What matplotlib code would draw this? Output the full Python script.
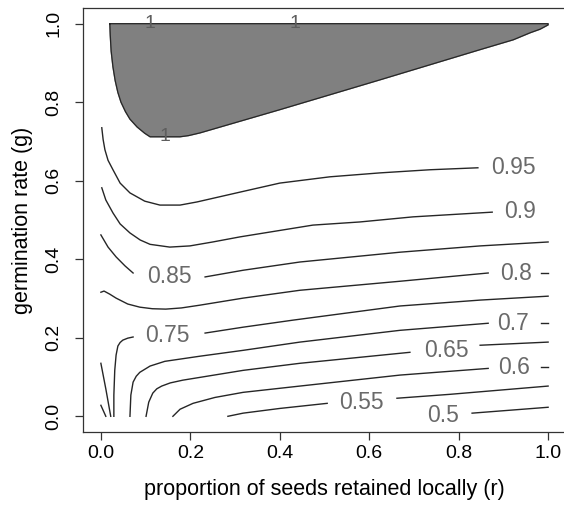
import matplotlib
matplotlib.use("Agg")
import matplotlib.pyplot as plt
import numpy as np

plt.rcParams['font.family'] = ['Liberation Sans', 'DejaVu Sans']

# contour lines: r = proportion retained, g = germination rate
# level 1 (shaded region outline)
c100_r = [0.020, 0.021, 0.023, 0.027, 0.032, 0.038, 0.045, 0.055, 0.065, 0.081,
          0.098, 0.110, 0.177, 0.196, 0.222, 0.400, 0.624, 0.848, 0.922, 0.960,
          0.982, 1.0, 1.0, 0.020]
c100_g = [1.0, 0.970, 0.930, 0.890, 0.855, 0.825, 0.800, 0.776, 0.757, 0.737,
          0.721, 0.712, 0.712, 0.715, 0.722, 0.781, 0.857, 0.934, 0.959, 0.977,
          0.986, 0.997, 1.0, 1.0]

c095_r = [0.002, 0.005, 0.009, 0.016, 0.027, 0.043, 0.065, 0.098, 0.132, 0.177,
          0.215, 0.311, 0.400, 0.512, 0.624, 0.736, 0.843]
c095_g = [0.735, 0.705, 0.679, 0.652, 0.628, 0.594, 0.569, 0.548, 0.538, 0.538,
          0.546, 0.571, 0.594, 0.610, 0.620, 0.628, 0.633]

c090_r = [0.002, 0.011, 0.027, 0.043, 0.065, 0.088, 0.110, 0.154, 0.199, 0.250,
          0.311, 0.474, 0.579, 0.698, 0.875]
c090_g = [0.582, 0.551, 0.518, 0.490, 0.467, 0.449, 0.438, 0.431, 0.434, 0.444,
          0.457, 0.487, 0.495, 0.508, 0.520]

c085a_r = [0.0, 0.016, 0.034, 0.054, 0.072]
c085a_g = [0.462, 0.431, 0.406, 0.383, 0.365]
c085b_r = [0.233, 0.318, 0.445, 0.669, 0.848, 1.0]
c085b_g = [0.355, 0.372, 0.393, 0.418, 0.434, 0.444]

c080_r = [0.0, 0.007, 0.020, 0.034, 0.060, 0.087, 0.115, 0.145, 0.180, 0.221,
          0.318, 0.445, 0.669, 0.866]
c080_g = [0.316, 0.319, 0.311, 0.301, 0.286, 0.278, 0.274, 0.273, 0.276, 0.283,
          0.301, 0.321, 0.344, 0.365]
c080b_r = [0.985, 1.0]
c080b_g = [0.365, 0.365]

c075a_r = [0.029, 0.029, 0.031, 0.034, 0.038, 0.043, 0.049, 0.060, 0.072]
c075a_g = [0.0, 0.054, 0.117, 0.156, 0.179, 0.188, 0.194, 0.199, 0.202]
c075b_r = [0.233, 0.318, 0.430, 0.669, 0.848, 1.0]
c075b_g = [0.212, 0.227, 0.245, 0.281, 0.296, 0.306]

c070_r = [0.065, 0.067, 0.072, 0.079, 0.087, 0.110, 0.143, 0.221, 0.318, 0.445,
          0.669, 0.866]
c070_g = [0.0, 0.054, 0.087, 0.102, 0.112, 0.128, 0.140, 0.153, 0.168, 0.189,
          0.219, 0.237]
c070b_r = [0.985, 1.0]
c070b_g = [0.237, 0.237]

c065a_r = [0.101, 0.107, 0.116, 0.125, 0.136, 0.155, 0.183, 0.318, 0.445, 0.691]
c065a_g = [0.0, 0.036, 0.059, 0.070, 0.077, 0.085, 0.092, 0.117, 0.135, 0.163]
c065b_r = [0.848, 1.0]
c065b_g = [0.181, 0.189]

c060_r = [0.161, 0.177, 0.206, 0.255, 0.318, 0.445, 0.669, 0.866]
c060_g = [0.0, 0.018, 0.033, 0.048, 0.061, 0.077, 0.105, 0.122]
c060b_r = [0.985, 1.0]
c060b_g = [0.125, 0.125]

c055a_r = [0.284, 0.318, 0.400, 0.506]
c055a_g = [0.0, 0.008, 0.020, 0.033]
c055b_r = [0.662, 0.781, 1.0]
c055b_g = [0.046, 0.056, 0.077]

c050_r = [0.830, 1.0]
c050_g = [0.008, 0.023]

# two short unlabelled pieces in the bottom-left corner
c080c_r = [0.0, 0.011, 0.022]
c080c_g = [0.135, 0.070, 0.0]
c085c_r = [0.0, 0.011]
c085c_g = [0.028, 0.0]

# contour labels: text, r, g
lab_text = ['0.95', '0.9', '0.85', '0.8', '0.75', '0.7', '0.65', '0.6', '0.55', '0.5']
lab_r = [0.922, 0.937, 0.154, 0.928, 0.148, 0.922, 0.772, 0.924, 0.582, 0.765]
lab_g = [0.635, 0.522, 0.357, 0.365, 0.207, 0.237, 0.168, 0.125, 0.036, 0.003]
one_r = [0.110, 0.434, 0.143]
one_g = [1.0, 1.0, 0.712]

fig = plt.figure(figsize=(5.64, 5.09), dpi=100)
ax = fig.add_axes([83 / 564, 1 - 432 / 509, 483 / 564, 424 / 509])

line_col = '#262626'
ax.fill(c100_r, c100_g, color='#808080', zorder=1)
ax.plot(c100_r, c100_g, color=line_col, lw=0.9, zorder=2)

segments = [(c095_r, c095_g), (c090_r, c090_g), (c085a_r, c085a_g), (c085b_r, c085b_g),
            (c080_r, c080_g), (c080b_r, c080b_g), (c075a_r, c075a_g), (c075b_r, c075b_g),
            (c070_r, c070_g), (c070b_r, c070b_g), (c065a_r, c065a_g), (c065b_r, c065b_g),
            (c060_r, c060_g), (c060b_r, c060b_g), (c055a_r, c055a_g), (c055b_r, c055b_g),
            (c050_r, c050_g), (c080c_r, c080c_g), (c085c_r, c085c_g)]
for r, g in segments:
    ax.plot(r, g, color=line_col, lw=1.0, zorder=2)

for t, r, g in zip(lab_text, lab_r, lab_g):
    ax.text(r, g, t, fontsize=16.5, color='#6a6a6a', ha='center', va='center', zorder=3)
for r, g in zip(one_r, one_g):
    ax.text(r, g, '1', fontsize=14, color='#5e5e5e', ha='center', va='center', zorder=3)

ax.set_xlim(-0.04, 1.04)
ax.set_ylim(-0.04, 1.04)
ticks = [0.0, 0.2, 0.4, 0.6, 0.8, 1.0]
ax.set_xticks(ticks)
ax.set_yticks(ticks)
ax.set_xticklabels(['0.0', '0.2', '0.4', '0.6', '0.8', '1.0'])
ax.set_yticklabels(['0.0', '0.2', '0.4', '0.6', '0.8', '1.0'])
ax.tick_params(axis='both', length=6, width=0.9, labelsize=14, color='#333333')
ax.tick_params(axis='x', pad=3.5)
ax.tick_params(axis='y', pad=9, labelrotation=90)
for lbl in ax.get_yticklabels():
    lbl.set_va('center')
for s in ax.spines.values():
    s.set_linewidth(0.9)
    s.set_color('#333333')
ax.spines['right'].set_visible(False)

ax.set_xlabel('proportion of seeds retained locally (r)', fontsize=15.5)
ax.set_ylabel('germination rate (g)', fontsize=15.5)
ax.xaxis.label.set_va('center')
ax.yaxis.label.set_va('center')
ax.xaxis.set_label_coords(0.5, (432 - 489) / 424)
ax.yaxis.set_label_coords((23 - 83) / 483, 0.5)

fig.savefig('out.png', dpi=100)
